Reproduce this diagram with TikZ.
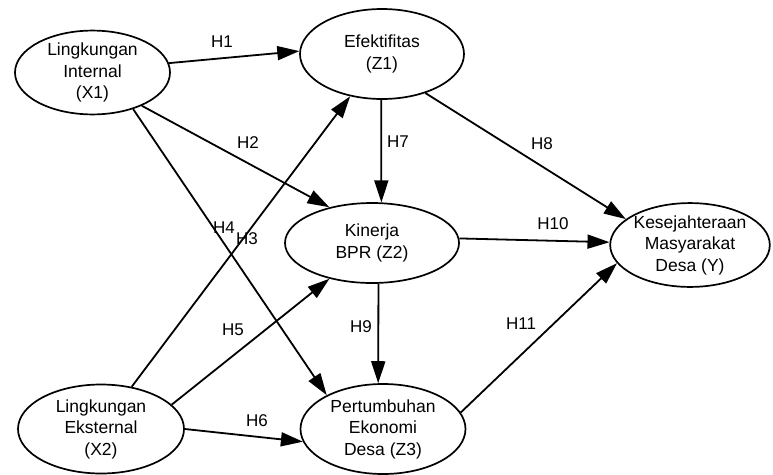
\documentclass[tikz,border=0pt]{standalone}
\usepackage{fontspec}
\setmainfont{Liberation Sans}
\usetikzlibrary{shapes.geometric,arrows.meta}
\begin{document}
\begin{tikzpicture}[x=1pt,y=-1pt,
  var/.style={draw,ellipse,line width=1.7pt,inner sep=0pt,align=center,
    font=\fontsize{17.5}{21.5}\selectfont},
  arr/.style={line width=1.8pt,-{Triangle[length=22pt,width=14pt]}},
  lab/.style={font=\fontsize{17}{20}\selectfont,inner sep=0pt}]
\useasboundingbox (0,0) rectangle (773,474);
\node[var,minimum width=155pt,minimum height=83pt] (X1) at (92.5,72.5) {Lingkungan\\Internal\\(X1)};
\node[var,minimum width=164pt,minimum height=90pt] (Z1) at (382,54) {Efektifitas\\(Z1)};
\node[var,minimum width=174pt,minimum height=80pt] (Z2) at (372,243) {Kinerja\\BPR (Z2)};
\node[var,minimum width=157pt,minimum height=83pt] (Y) at (690,245) {Kesejahteraan\\Masyarakat\\Desa (Y)};
\node[var,minimum width=166pt,minimum height=89pt] (X2) at (101,429) {Lingkungan\\Eksternal\\(X2)};
\node[var,minimum width=165pt,minimum height=90pt] (Z3) at (383,429) {Pertumbuhan\\Ekonomi\\Desa (Z3)};
\draw[arr] (X1.7.7) -- (Z1.178.6);
\draw[arr] (X1.-34.3) -- (Z2.140.7);
\draw[arr] (X1.-42.8) -- (Z3.149.8);
\draw[arr] (X2.54.8) -- (Z1.233.7);
\draw[arr] (X2.19.4) -- (Z2.220.4);
\draw[arr] (X2.-0.7) -- (Z3.189.5);
\draw[arr] (Z1.-91) -- (Z2.77.3);
\draw[arr] (Z1.-42.4) -- (Y.158);
\draw[arr] (Z2.3.9) -- (Y.178.5);
\draw[arr] (Z2.-81.5) -- (Z3.96.3);
\draw[arr] (Z3.12.1) -- (Y.194.8);
\node[lab] (h1) at (222,42) {H1};
\node[lab] (h2) at (248,143) {H2};
\node[lab] (h7) at (398,142) {H7};
\node[lab] (h8) at (542,144) {H8};
\node[lab] (h10) at (553,224) {H10};
\node[lab] (h4) at (224,228) {H4};
\node[lab] (h3) at (247,239) {H3};
\node[lab] (h5) at (233,330) {H5};
\node[lab] (h6) at (257,421) {H6};
\node[lab] (h9) at (361,327) {H9};
\node[lab] (h11) at (521,324) {H11};
\end{tikzpicture}
\end{document}
